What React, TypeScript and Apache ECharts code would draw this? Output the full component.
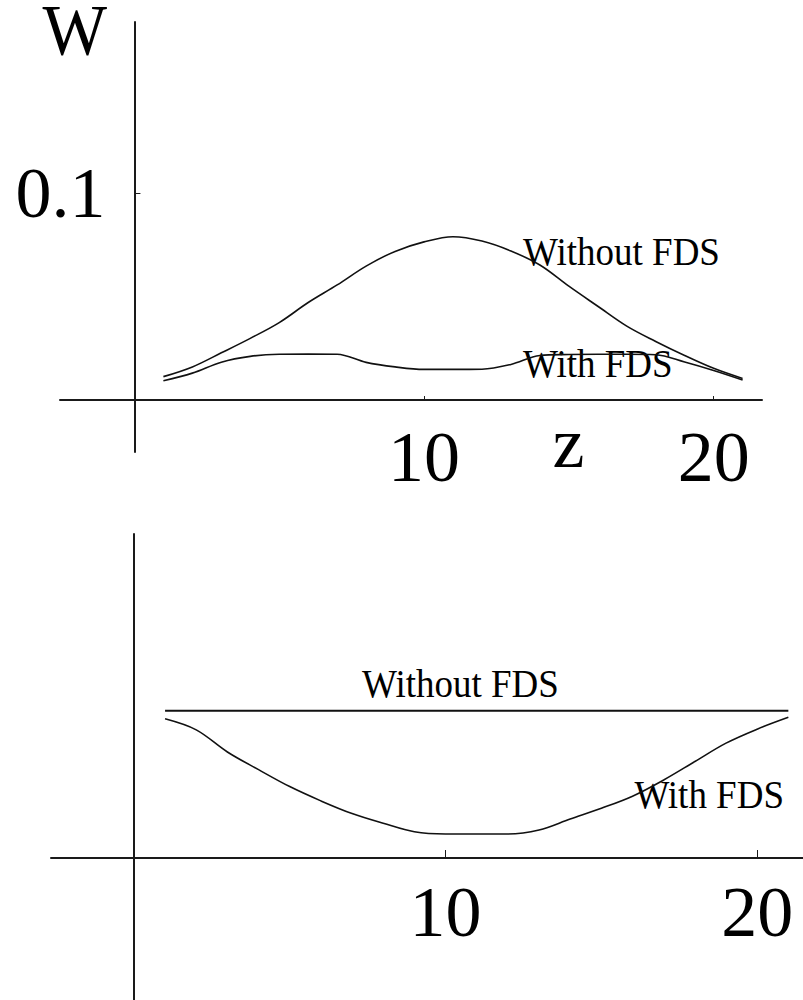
import React, { useEffect, useRef } from "react";
import * as echarts from "echarts";

// ---- data ----
const zValues = [1, 2, 3, 4, 5, 6, 7, 8, 9, 10, 11, 12, 13, 14, 15, 16, 17, 18, 19, 20, 21];

// upper panel: W vs z
const topWithout = [0.0113, 0.016, 0.0228, 0.0298, 0.0374, 0.0471, 0.0556, 0.0647, 0.0718, 0.0764, 0.0789,
  0.0768, 0.072, 0.0652, 0.055, 0.0453, 0.0357, 0.0283, 0.0215, 0.0153, 0.0104];
const topWith = [0.0093, 0.013, 0.0183, 0.0211, 0.0221, 0.0222, 0.0221, 0.0182, 0.016, 0.0148, 0.0148,
  0.0149, 0.0172, 0.0215, 0.022, 0.0221, 0.0221, 0.0219, 0.0184, 0.0143, 0.0097];

// lower panel (no y scale shown; relative units)
const bottomWithout = [1, 1, 1, 1, 1, 1, 1, 1, 1, 1, 1, 1, 1, 1, 1, 1, 1, 1, 1, 1, 1];
const bottomWith = [0.945, 0.87, 0.72, 0.6, 0.485, 0.388, 0.302, 0.236, 0.178, 0.163, 0.163,
  0.163, 0.19, 0.265, 0.338, 0.42, 0.53, 0.655, 0.78, 0.875, 0.955];

const topXTicks = [10, 20];
const topYTicks = [0.1];
const bottomXTicks = [10, 20];
const seriesNames = ["Without FDS", "With FDS"];
const xAxisName = "z";
const yAxisName = "W";

// axis ranges
const topX = { min: -2.57, max: 21.67 };
const topY = { min: -0.0251, max: 0.1826 };
const botX = { min: -2.66, max: 21.47 };
const botY = { min: -0.964, max: 2.2 };

// annotation anchors in data units (text baseline)
const labelAnchors = [
  { grid: 0, text: seriesNames[0], z: 13.42, v: 0.0652, size: 40, sx: 0.925, align: "left" },
  { grid: 0, text: seriesNames[1], z: 13.42, v: 0.0111, size: 40, sx: 0.925, align: "left" },
  { grid: 0, text: xAxisName, z: 14.99, v: -0.0324, size: 72, sx: 1, align: "center" },
  { grid: 0, text: yAxisName, z: -2.06, v: 0.1672, size: 72, sx: 0.95, align: "center" },
  { grid: 1, text: seriesNames[0], z: 7.32, v: 1.093, size: 40, sx: 0.925, align: "left" },
  { grid: 1, text: seriesNames[1], z: 16.06, v: 0.339, size: 40, sx: 0.925, align: "left" },
];

const FONT = '"Liberation Serif", "Times New Roman", serif';
const INK = "#111";
const AXIS = "#1a1a1a";

const pairs = (ys: number[]) => zValues.map((z, i) => [z, ys[i]]);

export default function App() {
  const ref = useRef<HTMLDivElement>(null);

  useEffect(() => {
    if (!ref.current) return;
    const chart = echarts.init(ref.current, null, { renderer: "svg" });

    const grids = [
      { left: 60, top: 22, width: 702, height: 430 },
      { left: 51, top: 534, width: 752, height: 466 },
    ];
    // offsets that move each axis from the grid edge onto the zero line
    const xOff = (g: any, r: any) => -(g.height * (0 - r.min)) / (r.max - r.min);
    const yOff = (g: any, r: any) => -(g.width * (0 - r.min)) / (r.max - r.min);

    const axisLine = { show: true, onZero: false, lineStyle: { color: AXIS, width: 2 } };
    const labelStyle = { fontSize: 72, fontFamily: FONT, color: "#000" };
    const lineSeries = (name: string, xi: number, data: number[], width = 1.6) => ({
      name,
      type: "line",
      xAxisIndex: xi,
      yAxisIndex: xi,
      data: pairs(data),
      symbol: "none",
      smooth: 0.35,
      lineStyle: { color: INK, width },
      silent: true,
    });

    chart.setOption({
      animation: false,
      backgroundColor: "#ffffff",
      grid: grids.map((g) => ({ ...g, outerBoundsMode: "none", containLabel: false })),
      xAxis: [
        {
          gridIndex: 0, type: "value", ...topX, offset: xOff(grids[0], topY),
          axisLine,
          axisTick: { show: true, inside: true, length: 4, customValues: topXTicks, lineStyle: { color: AXIS, width: 1 } },
          axisLabel: { ...labelStyle, customValues: topXTicks, margin: 21 },
          splitLine: { show: false },
        },
        {
          gridIndex: 1, type: "value", ...botX, offset: xOff(grids[1], botY),
          axisLine,
          axisTick: { show: true, inside: true, length: 8, customValues: bottomXTicks, lineStyle: { color: AXIS, width: 1 } },
          axisLabel: { ...labelStyle, customValues: bottomXTicks, margin: 18 },
          splitLine: { show: false },
        },
      ],
      yAxis: [
        {
          gridIndex: 0, type: "value", ...topY, offset: yOff(grids[0], topX),
          axisLine,
          axisTick: { show: true, inside: true, length: 6, customValues: topYTicks, lineStyle: { color: AXIS, width: 1 } },
          axisLabel: { ...labelStyle, customValues: topYTicks, margin: 29, formatter: (v: number) => String(v) },
          splitLine: { show: false },
        },
        {
          gridIndex: 1, type: "value", ...botY, offset: yOff(grids[1], botX),
          axisLine,
          axisTick: { show: false },
          axisLabel: { show: false },
          splitLine: { show: false },
        },
      ],
      series: [
        lineSeries(seriesNames[0], 0, topWithout),
        lineSeries(seriesNames[1], 0, topWith),
        lineSeries(seriesNames[0], 1, bottomWithout, 2),
        lineSeries(seriesNames[1], 1, bottomWith),
      ],
    });

    const graphics = labelAnchors.map((a) => {
      const p = chart.convertToPixel({ gridIndex: a.grid } as any, [a.z, a.v]) as number[];
      // anchor is the text baseline; shift to the vertical middle of the glyph box
      return {
        type: "text",
        x: p[0],
        y: p[1] - 0.3375 * a.size,
        scaleX: a.sx,
        silent: true,
        style: {
          text: a.text,
          font: `${a.size}px ${FONT}`,
          lineHeight: Math.round(a.size * 0.8),
          fill: "#000",
          align: a.align,
          textAlign: a.align,
          verticalAlign: "middle",
          textVerticalAlign: "middle",
        },
      };
    });
    chart.setOption({ graphic: graphics });

    return () => chart.dispose();
  }, []);

  return (
    <div
      ref={ref}
      style={{ position: "absolute", left: 0, top: 0, width: 803, height: 1000, background: "#fff" }}
    />
  );
}
